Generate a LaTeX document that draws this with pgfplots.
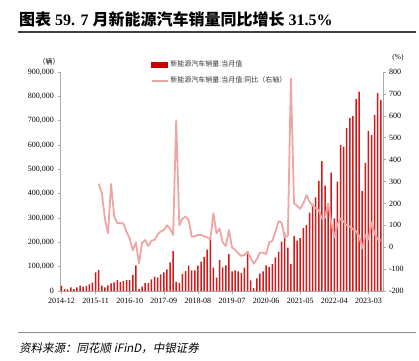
\documentclass[border=0pt]{standalone}
\usepackage{pgfplots}
\pgfplotsset{compat=1.18}
\usepackage{fontspec}
\setmainfont{Liberation Serif}
\newfontfamily\cjk{Noto Sans CJK SC}
\newfontfamily\cjksl[FakeSlant=0.2]{Noto Sans CJK SC}
\definecolor{barred}{RGB}{214,24,24}
\definecolor{legred}{RGB}{200,0,0}
\definecolor{linepink}{RGB}{240,165,165}
\definecolor{axgray}{RGB}{170,170,170}
\begin{document}
\begin{tikzpicture}
\path[use as bounding box] (0,0) rectangle (419pt,360pt);
% title
\node[anchor=base west, inner sep=0pt] at (19pt,335pt) {\fontsize{16}{18}\selectfont{\cjk\bfseries 图表} \textbf{59. 7} {\cjk\bfseries 月新能源汽车销量同比增长} \textbf{31.5\%}};
\draw[line width=1.4pt, black!75] (18pt,328pt) -- (416pt,328pt);
\draw[line width=0.9pt, black!45] (18pt,27.5pt) -- (416pt,27.5pt);
\node[anchor=base west, inner sep=0pt] at (19pt,8pt) {\fontsize{11.5}{13}\selectfont\cjksl 资料来源：同花顺 \textit{iFinD}，中银证券};
\node[anchor=center, inner sep=0pt] at (49pt,298pt) {\fontsize{7}{8}\selectfont\cjk （辆）};
\node[anchor=center, inner sep=0pt] at (398pt,302pt) {\fontsize{7.5}{8}\selectfont (\%)};

\begin{axis}[
  at={(60pt,69pt)}, anchor=south west,
  scale only axis, width=323pt, height=219pt,
  xmin=-0.48, xmax=103.7,
  ymin=0, ymax=900000,
  axis y line*=left, axis x line*=bottom,
  axis line style={axgray, line width=0.6pt},
  xtick={0,11,22,33,44,55,66,77,88,99},
  xticklabels={2014-12,2015-11,2016-10,2017-09,2018-08,2019-07,2020-06,2021-05,2022-04,2023-03},
  ytick={0,100000,...,900000},
  scaled y ticks=false,
  yticklabel style={/pgf/number format/.cd, fixed, 1000 sep={,}, assume math mode=true},
  tick label style={font=\fontsize{8}{9}\selectfont},
  tick style={axgray, line width=0.5pt},
  tick align=outside, major tick length=2.5pt,
  xtick pos=bottom, ytick pos=left,
  xticklabel style={yshift=-1pt},
  ybar, bar width=1.5pt,
]
\addplot[fill=barred, draw=none] table[x=i, y=v] {
i v
0 22000
1 8000
2 7000
3 15000
4 8000
5 15000
6 22000
7 18000
8 20000
9 27000
10 34000
11 77000
12 86000
13 22000
14 15000
15 23000
16 31000
17 35000
18 45000
19 36000
20 41000
21 45000
22 45000
23 66000
24 105000
25 8000
26 18000
27 32000
28 32000
29 48000
30 59000
31 56000
32 68000
33 77000
34 89000
35 118000
36 164000
37 38000
38 33000
39 70000
40 82000
41 104000
42 85000
43 85000
44 104000
45 121000
46 140000
47 170000
48 212000
49 96000
50 55000
51 127000
52 97000
53 105000
54 152000
55 81000
56 85000
57 81000
58 74000
59 96000
60 164000
61 44000
62 12000
63 52000
64 71000
65 81000
66 105000
67 99000
68 110000
69 138000
70 162000
71 203000
72 240000
73 178000
74 111000
75 226000
76 207000
77 217000
78 258000
79 271000
80 322000
81 358000
82 385000
83 453000
84 534000
85 433000
86 334000
87 486000
88 299000
89 449000
90 600000
91 593000
92 669000
93 712000
94 719000
95 789000
96 819000
97 411000
98 527000
99 658000
100 641000
101 724000
102 813000
103 785000
};
\end{axis}

\begin{axis}[
  at={(60pt,69pt)}, anchor=south west,
  scale only axis, width=323pt, height=219pt,
  xmin=-0.48, xmax=103.7,
  ymin=-200, ymax=800,
  axis y line*=right, axis x line=none,
  axis line style={axgray, line width=0.6pt},
  ytick={-200,-100,...,800},
  yticklabel style={/pgf/number format/assume math mode=true},
  tick label style={font=\fontsize{8}{9}\selectfont},
  tick style={axgray, line width=0.5pt},
  tick align=outside, major tick length=2.5pt,
  ytick pos=right,
  legend style={at={(0.28,1.06)}, anchor=north west, draw=none, fill=none,
    font=\fontsize{7}{8}\selectfont\cjk, text=black!80, row sep=4.5pt,
    inner sep=0pt, cells={anchor=west}},
  legend cell align=left,
]
\addlegendimage{legend image code/.code={\fill[legred] (0pt,-2.3pt) rectangle (16pt,2.3pt);}}
\addlegendentry{新能源汽车销量:当月值}
\addplot[linepink, line width=1.8pt, line join=round,
  legend image code/.code={\draw[linepink, line width=1.8pt] (0pt,0pt) -- (16pt,0pt);}] table[x=i, y=v] {
i v
12 290
13 250
14 130
15 63
16 289
17 140
18 110
19 110
20 108
21 70
22 40
23 -14
24 22
25 -74
26 20
27 33
28 5
29 30
30 33
31 58
32 72
33 78
34 100
35 85
36 56
37 580
38 100
39 130
40 140
41 125
42 48
43 50
44 56
45 56
46 50
47 45
48 35
49 155
50 63
51 85
52 22
53 5
54 78
55 0
56 -12
57 -28
58 -40
59 -35
60 -22
61 -48
62 -76
63 -55
64 -25
65 -25
66 -31
67 22
68 29
69 70
70 119
71 111
72 46
73 50
74 770
75 200
76 190
77 175
78 200
79 238
80 208
81 190
82 178
83 170
84 130
85 135
86 200
87 115
88 45
89 106
90 130
91 117
92 100
93 94
94 82
95 73
96 52
97 -6
98 56
99 35
100 113
101 61
102 35
103 31.5
};
\addlegendentry{新能源汽车销量:当月值:同比（右轴）}
\end{axis}
\end{tikzpicture}
\end{document}
